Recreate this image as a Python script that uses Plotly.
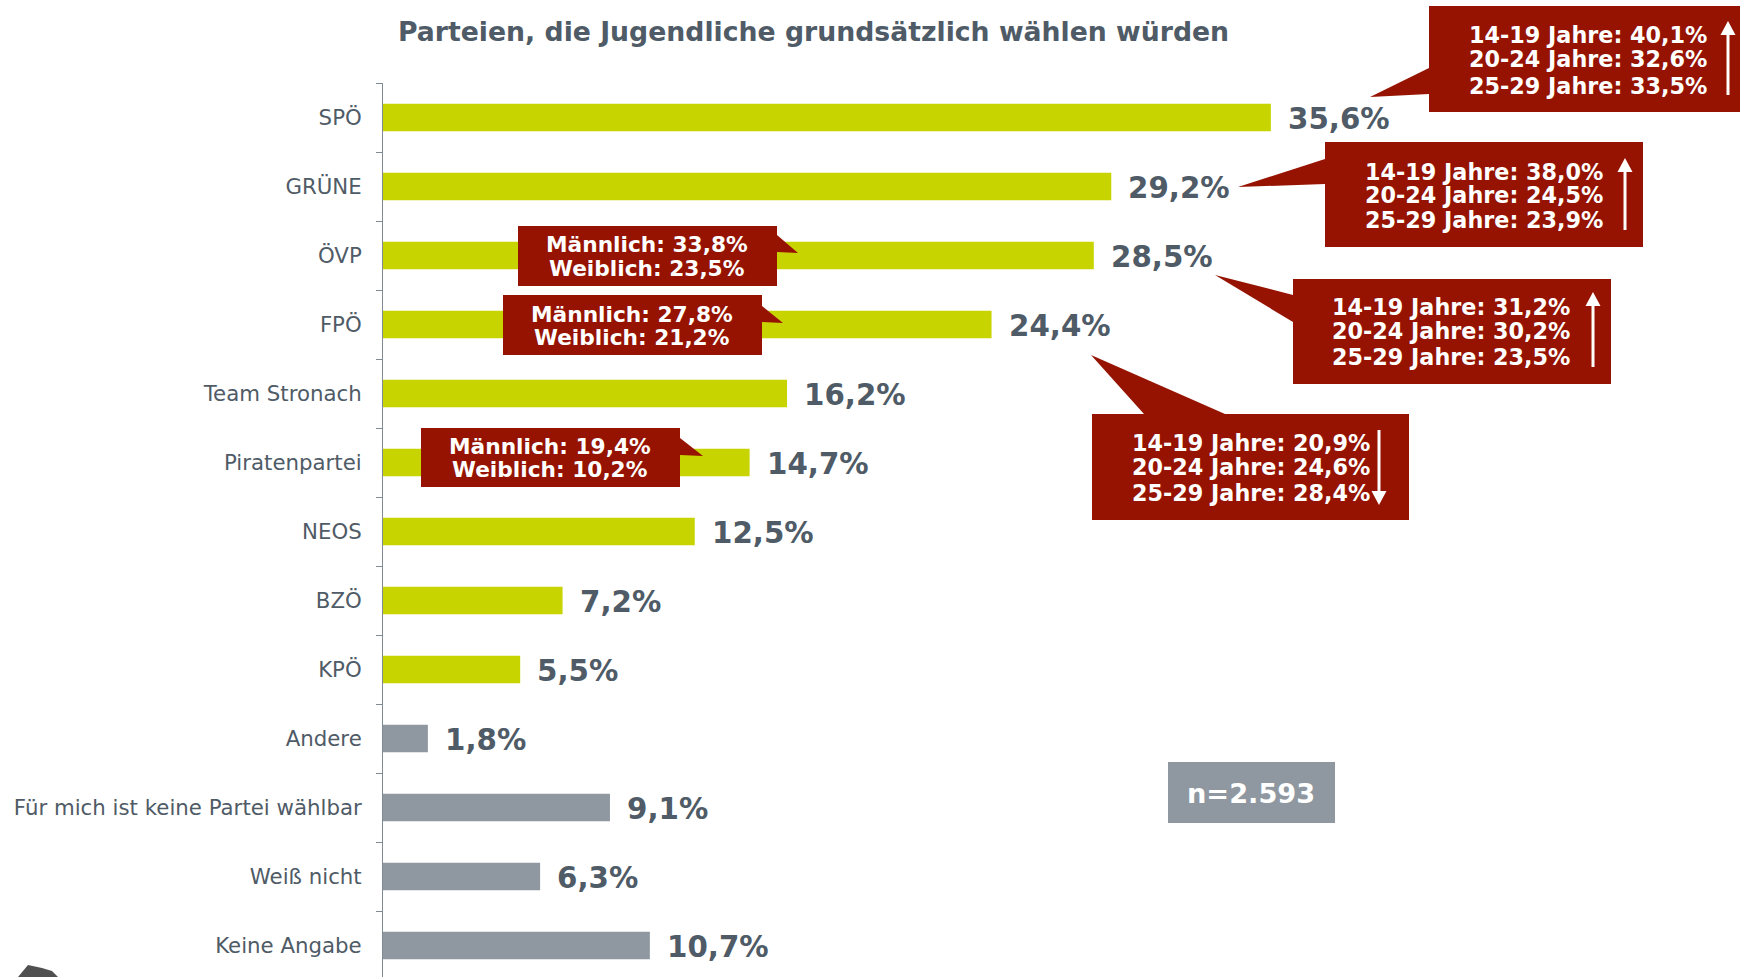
import plotly.graph_objects as go

# ---------------- data ----------------
categories = ["SPÖ", "GRÜNE", "ÖVP", "FPÖ", "Team Stronach", "Piratenpartei", "NEOS",
              "BZÖ", "KPÖ", "Andere", "Für mich ist keine Partei wählbar", "Weiß nicht",
              "Keine Angabe"]
values = [35.6, 29.2, 28.5, 24.4, 16.2, 14.7, 12.5, 7.2, 5.5, 1.8, 9.1, 6.3, 10.7]
is_party = [True] * 9 + [False] * 4

age_groups = ["14-19 Jahre", "20-24 Jahre", "25-29 Jahre"]
age_spoe = [40.1, 32.6, 33.5]
age_gruene = [38.0, 24.5, 23.9]
age_oevp = [31.2, 30.2, 23.5]
age_fpoe = [20.9, 24.6, 28.4]

gender_groups = ["Männlich", "Weiblich"]
gender_oevp = [33.8, 23.5]
gender_fpoe = [27.8, 21.2]
gender_pirat = [19.4, 10.2]

sample_label = "n=2.593"
title_text = "Parteien, die Jugendliche grundsätzlich wählen würden"

# ---------------- styling / layout ----------------
W, H = 1740, 977
ML, MT = 383, 83
PX_PER_PCT = 24.94
CAT_PX = 69.0

GREEN = "#c8d400"
GREY_BAR = "#8f98a1"
RED = "#951300"
TXT = "#4f5b66"
FONT = "DejaVu Sans"


def fmt(v):
    return f"{v:.1f}".replace(".", ",") + "%"


def px(x):
    return (x - ML) / (W - ML)


def py(y):
    return (H - y) / (H - MT)


fig = go.Figure()
fig.add_trace(go.Bar(
    y=categories, x=values, orientation="h",
    marker=dict(color=[GREEN if p else GREY_BAR for p in is_party], line=dict(width=0)),
    width=0.4, hoverinfo="x+y",
))

annotations = []
shapes = []

# value labels
for c, v in zip(categories, values):
    annotations.append(dict(x=v, y=c, xref="x", yref="y", text=fmt(v), showarrow=False,
                            xanchor="left", yanchor="middle", xshift=15, yshift=-1,
                            font=dict(family=FONT, size=29.3, color=TXT, weight="bold")))

# title
annotations.append(dict(x=px(813), y=py(31), xref="paper", yref="paper", text=title_text,
                        showarrow=False, xanchor="center", yanchor="middle",
                        font=dict(family=FONT, size=26.7, color=TXT, weight="bold")))


def path_from(points):
    s = "M " + " L ".join(f"{px(x):.5f},{py(y):.5f}" for x, y in points) + " Z"
    return s


def add_box(box, wedge, color=RED):
    x0, y0, x1, y1 = box
    shapes.append(dict(type="rect", xref="paper", yref="paper", x0=px(x0), x1=px(x1),
                       y0=py(y1), y1=py(y0), fillcolor=color, line=dict(width=0), layer="above"))
    if wedge:
        shapes.append(dict(type="path", xref="paper", yref="paper", path=path_from(wedge),
                           fillcolor=color, line=dict(width=0), layer="above"))


def add_arrow(x, ytail, ytip):
    shapes.append(dict(type="line", xref="paper", yref="paper", x0=px(x), x1=px(x),
                       y0=py(ytail), y1=py(ytip + (12 if ytip < ytail else -12)),
                       line=dict(color="white", width=3), layer="above"))
    d = 1 if ytip < ytail else -1
    tri = [(x - 7.5, ytip + d * 14), (x, ytip), (x + 7.5, ytip + d * 14)]
    shapes.append(dict(type="path", xref="paper", yref="paper", path=path_from(tri),
                       fillcolor="white", line=dict(width=0), layer="above"))


# age callouts: (values, box, wedge, text-left x, line ys, arrow)
age_callouts = [
    (age_spoe, (1429, 6, 1745, 112), [(1429, 68), (1370, 97), (1429, 94)], 1467, [35, 59, 86], (1728, 95, 21)),
    (age_gruene, (1325, 142, 1643, 247), [(1325, 159), (1238, 187), (1325, 184)], 1363, [172, 195, 220], (1625, 230, 158)),
    (age_oevp, (1293, 279, 1611, 384), [(1293, 295), (1215, 275), (1293, 322)], 1330, [307, 331, 357], (1593, 367, 292)),
    (age_fpoe, (1092, 414, 1409, 520), [(1144, 414), (1091, 355), (1225, 414)], 1130, [443, 467, 493], (1379, 430, 505)),
]
for vals, box, wedge, tx, ys, arr in age_callouts:
    add_box(box, wedge)
    for g, v, yy in zip(age_groups, vals, ys):
        annotations.append(dict(x=px(tx), y=py(yy), xref="paper", yref="paper",
                                text=f"{g}: {fmt(v)}", showarrow=False,
                                xanchor="left", yanchor="middle",
                                font=dict(family=FONT, size=22.3, color="white", weight="bold")))
    add_arrow(*arr)

# gender callouts: (values, box, wedge, text-center x, line ys)
gender_callouts = [
    (gender_oevp, (518, 226, 777, 286), [(777, 235), (798, 253), (777, 252)], 647, [244, 268]),
    (gender_fpoe, (503, 295, 762, 355), [(762, 306), (783, 323), (762, 322)], 632, [314, 337]),
    (gender_pirat, (421, 428, 680, 487), [(680, 438), (703, 456), (680, 455)], 550, [446, 469]),
]
for vals, box, wedge, tx, ys in gender_callouts:
    add_box(box, wedge)
    for g, v, yy in zip(gender_groups, vals, ys):
        annotations.append(dict(x=px(tx), y=py(yy), xref="paper", yref="paper",
                                text=f"{g}: {fmt(v)}", showarrow=False,
                                xanchor="center", yanchor="middle",
                                font=dict(family=FONT, size=21.7, color="white", weight="bold")))

# sample size box
add_box((1168, 762, 1335, 823), None, color=GREY_BAR)
annotations.append(dict(x=px(1251), y=py(793), xref="paper", yref="paper", text=sample_label,
                        showarrow=False, xanchor="center", yanchor="middle",
                        font=dict(family=FONT, size=27.2, color="white", weight="bold")))

# partial logo fragment bottom-left
shapes.append(dict(type="path", xref="paper", yref="paper",
                   path=path_from([(18, 977), (28, 965), (42, 968), (52, 971), (58, 977)]),
                   fillcolor="#505050", line=dict(width=0), layer="above"))

fig.update_layout(
    width=W, height=H,
    margin=dict(l=ML, r=0, t=MT, b=0, pad=0),
    paper_bgcolor="white", plot_bgcolor="white",
    showlegend=False,
    bargap=0.6,
    xaxis=dict(visible=False, range=[0, (W - ML) / PX_PER_PCT], fixedrange=True),
    yaxis=dict(type="category", categoryorder="array", categoryarray=categories,
               range=[-0.5 + (H - MT) / CAT_PX, -0.5],
               showline=True, linecolor="#7f8a94", linewidth=1,
               ticks="outside", tickson="boundaries", ticklen=6, tickcolor="#7f8a94", tickwidth=1,
               ticklabelstandoff=16,
               showgrid=False, zeroline=False,
               tickfont=dict(family=FONT, size=21.3, color=TXT), fixedrange=True),
    annotations=annotations,
    shapes=shapes,
)

fig.write_html("out.html", config={"displayModeBar": False},
               post_script="document.body.style.margin='0';document.body.style.overflow='hidden';")
